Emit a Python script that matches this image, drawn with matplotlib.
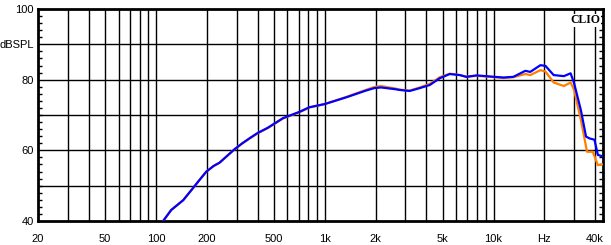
import matplotlib
matplotlib.use("Agg")
import matplotlib.pyplot as plt
from matplotlib.ticker import FixedLocator, NullLocator, MultipleLocator

# frequency response (Hz, dB SPL)
freq_blue = [111, 123, 145, 165, 181, 199, 220, 238, 265, 292, 325, 358, 400,
             460, 565, 709, 811, 1000, 1340, 1750, 1960, 2150, 2620, 2770, 3180,
             3650, 4190, 4800, 5500, 6310, 6900, 7930, 9540, 11440, 13100,
             15420, 16500, 18960, 20300, 22700, 26100, 28600, 30000, 32900,
             35300, 36900, 39600, 41500, 45000]
spl_blue = [40.2, 43.1, 45.9, 49.2, 51.6, 54.0, 55.6, 56.5, 58.5, 60.3, 62.0,
            63.4, 64.9, 66.4, 69.1, 70.9, 72.2, 73.1, 75.0, 76.9, 77.6, 77.8,
            77.3, 77.1, 76.8, 77.6, 78.5, 80.4, 81.6, 81.3, 80.8, 81.2, 80.9,
            80.6, 80.8, 82.5, 82.2, 84.1, 83.9, 81.3, 81.0, 81.8, 79.0, 71.4,
            63.9, 63.4, 63.0, 58.7, 58.2]

freq_orange = [111, 123, 145, 165, 181, 199, 220, 238, 265, 292, 325, 358, 400,
               460, 565, 709, 811, 1000, 1340, 1750, 1960, 2150, 2620, 2770,
               3180, 3650, 4190, 4800, 5500, 6310, 6900, 7930, 9540, 11440,
               13100, 15420, 16500, 18960, 20300, 22700, 26100, 28600, 30000,
               32900, 35800, 38700, 41500, 45000]
spl_orange = [40.2, 43.1, 45.9, 49.2, 51.6, 54.0, 55.6, 56.5, 58.5, 60.3, 62.0,
              63.3, 64.8, 66.3, 69.0, 70.8, 72.1, 73.1, 75.1, 77.1, 77.9, 78.2,
              77.5, 77.2, 76.9, 77.8, 78.8, 80.7, 81.7, 81.3, 80.8, 81.1, 80.8,
              80.5, 80.7, 81.6, 81.3, 82.7, 82.3, 79.2, 78.2, 79.2, 77.1, 68.6,
              59.6, 59.6, 55.8, 56.1]

xtick_pos = [20, 50, 100, 200, 500, 1000, 2000, 5000, 10000, 20000, 40000]
xtick_lab = ["20", "50", "100", "200", "500", "1k", "2k", "5k", "10k", "Hz", "40k"]
ytick_pos = [40, 60, 80, 90, 100]
ytick_lab = ["40", "60", "80", "dBSPL", "100"]

grid_x = [m * 10 ** e for e in range(1, 5) for m in range(1, 10)]
grid_x = [g for g in grid_x if 20 < g <= 40000]

plt.rcParams["font.family"] = ["Liberation Sans", "DejaVu Sans"]

fig = plt.figure(figsize=(6.11, 2.45), dpi=100)
ax = fig.add_axes([38 / 611, 24 / 245, 565 / 611, 212 / 245])

ax.set_xscale("log")
ax.set_xlim(20, 44500)
ax.set_ylim(40, 100)

for g in grid_x:
    ax.axvline(g, color="black", lw=1.0, zorder=1)
for g in range(50, 100, 10):
    ax.axhline(g, color="black", lw=1.0, zorder=1)

ax.plot(freq_orange, spl_orange, color="#ff8000", lw=1.6, zorder=3)
ax.plot(freq_blue, spl_blue, color="#0000ff", lw=1.6, zorder=4)

ax.xaxis.set_major_locator(FixedLocator(xtick_pos))
ax.set_xticklabels(xtick_lab)
ax.xaxis.set_minor_locator(NullLocator())
ax.tick_params(axis="x", which="both", length=0, labelsize=8, pad=9)

ax.yaxis.set_major_locator(FixedLocator(ytick_pos))
ax.set_yticklabels(ytick_lab)
ax.yaxis.set_minor_locator(MultipleLocator(2))
ax.tick_params(axis="y", which="major", length=0, labelsize=8, pad=3)
ax.tick_params(axis="y", which="minor", direction="in", length=3, width=1,
               left=True, right=True)

for s in ax.spines.values():
    s.set_linewidth(2)

ax.text(0.995, 0.975, "CLIO", transform=ax.transAxes, ha="right", va="top",
        fontsize=8.5, fontweight="bold", family="Liberation Serif", zorder=5,
        bbox=dict(facecolor="white", edgecolor="none", pad=0.5))

fig.savefig("out.png", dpi=100)
